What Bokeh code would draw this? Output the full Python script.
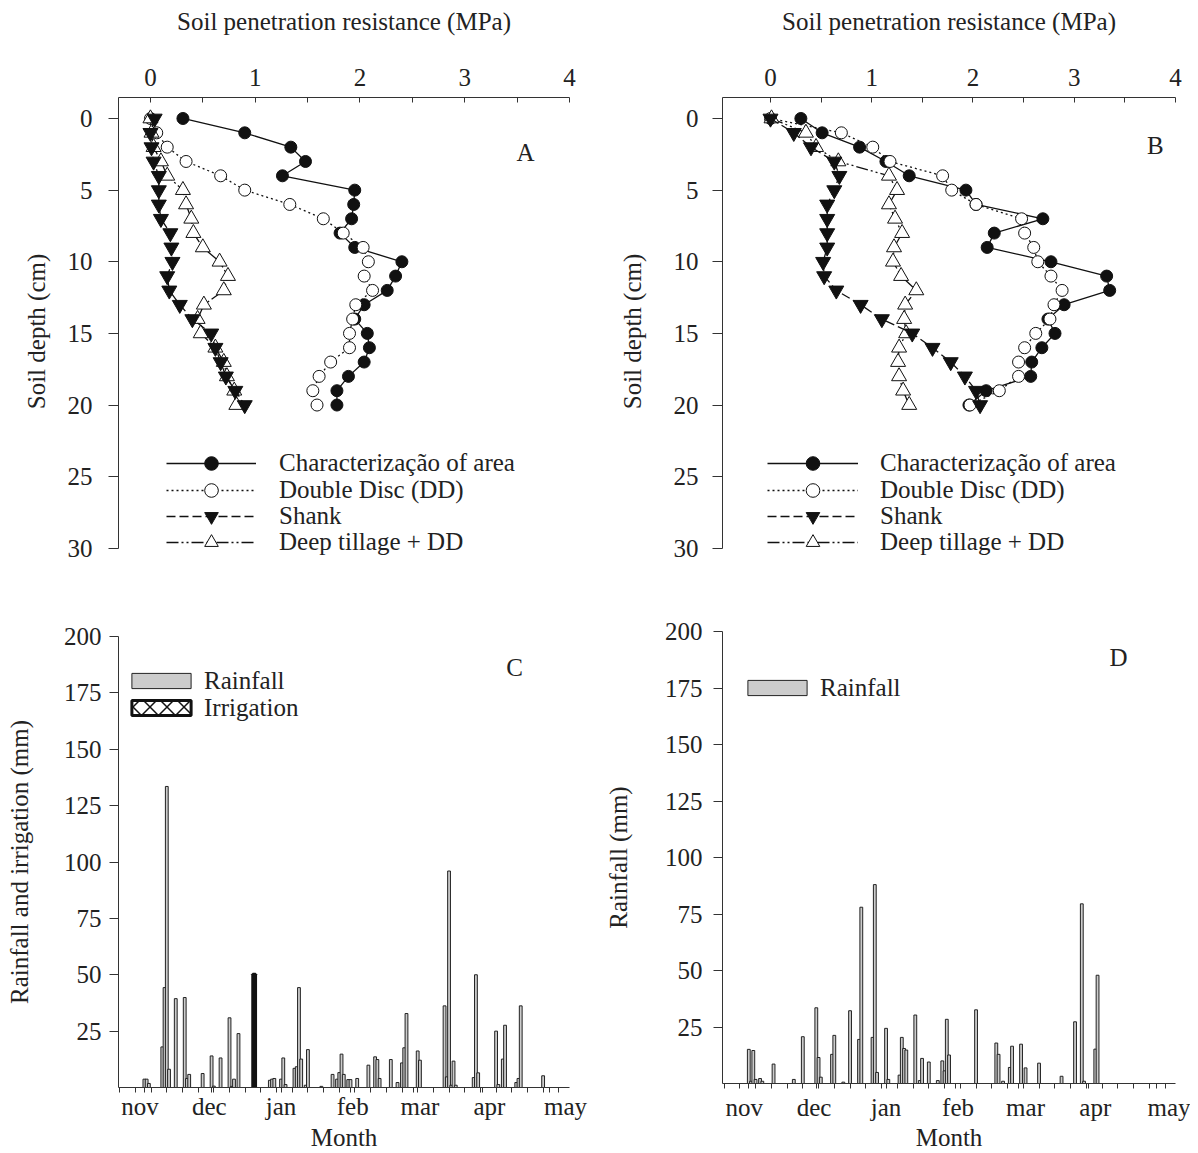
from bokeh.plotting import figure
from bokeh.models import Range1d, FixedTicker, Legend, LegendItem, Label
from bokeh.layouts import column, row
from bokeh.embed import file_html
from bokeh.resources import INLINE

FONT = "Liberation Serif"
TXT = "#222222"
AX = "#333333"
FS = "25px"

# ---------------- data: soil penetration resistance (MPa) by depth (cm) -------------
depth_cm = list(range(21))
a_characterizacao = [0.31, 0.90, 1.34, 1.48, 1.26, 1.95, 1.94, 1.92, 1.81, 1.95, 2.40,
                     2.34, 2.26, 2.04, 1.95, 2.07, 2.09, 2.04, 1.89, 1.78, 1.78]
a_double_disc = [0.0, 0.06, 0.16, 0.34, 0.67, 0.90, 1.33, 1.65, 1.84, 2.03, 2.08,
                 2.04, 2.12, 1.96, 1.93, 1.90, 1.90, 1.72, 1.61, 1.55, 1.59]
a_shank = [0.04, 0.0, 0.01, 0.03, 0.08, 0.08, 0.08, 0.10, 0.19, 0.20, 0.21,
           0.16, 0.18, 0.28, 0.40, 0.58, 0.62, 0.67, 0.72, 0.81, 0.90]
a_deep_tillage = [0.0, 0.01, 0.03, 0.10, 0.16, 0.31, 0.34, 0.39, 0.41, 0.50, 0.66,
                  0.74, 0.70, 0.51, 0.45, 0.48, 0.62, 0.70, 0.73, 0.80, 0.82]

b_characterizacao = [0.30, 0.51, 0.88, 1.14, 1.37, 1.93, 2.03, 2.69, 2.21, 2.14, 2.77,
                     3.32, 3.35, 2.90, 2.74, 2.81, 2.68, 2.58, 2.57, 2.13, 1.96]
b_double_disc = [0.0, 0.70, 1.01, 1.18, 1.70, 1.79, 2.03, 2.48, 2.51, 2.60, 2.64,
                 2.77, 2.88, 2.80, 2.76, 2.62, 2.51, 2.45, 2.45, 2.26, 1.97]
b_shank = [0.0, 0.23, 0.40, 0.63, 0.68, 0.63, 0.56, 0.56, 0.56, 0.56, 0.52,
           0.53, 0.65, 0.89, 1.10, 1.40, 1.60, 1.78, 1.92, 2.03, 2.07]
b_deep_tillage = [0.01, 0.35, 0.45, 0.67, 1.17, 1.25, 1.17, 1.23, 1.30, 1.22, 1.21,
                  1.29, 1.44, 1.33, 1.32, 1.34, 1.27, 1.26, 1.27, 1.31, 1.37]

series_names = ["Characterização of area", "Double Disc (DD)", "Shank", "Deep tillage + DD"]
mpa_ticks = [0, 1, 2, 3, 4]
mpa_minor = [0.5, 1.5, 2.5, 3.5]
depth_ticks = [0, 5, 10, 15, 20, 25, 30]

# ---------------- data: daily rainfall / irrigation (mm), day 0 = 1 November ----------
c_rain_day = [0, 1, 2, 8, 9, 10, 11, 14, 18, 19, 20, 26, 30, 31, 34, 38, 39, 40, 42,
              56, 57, 58, 61, 62, 63, 67, 68, 69, 70, 72, 73, 79, 84, 86, 87, 88, 89,
              91, 92, 95, 100, 103, 104, 105, 110, 113, 115, 116, 117, 122, 123,
              134, 135, 136, 137, 138, 139, 147, 148, 149, 157, 158, 160, 161,
              166, 167, 168, 178]
c_rain_mm = [3.7, 3.7, 1.8, 18.0, 44.3, 133.5, 8.1, 39.4, 39.9, 4.0, 5.8, 6.2, 14.0, 0.6, 13.1,
             30.9, 0.5, 3.7, 23.9,
             3.2, 3.7, 4.0, 3.7, 13.1, 1.3, 8.5, 9.2, 44.3, 12.6, 1.0, 16.8, 0.5, 5.8, 3.7, 6.6,
             14.8, 5.8,
             3.5, 3.5, 4.0, 9.9, 13.6, 12.4, 4.0, 12.4, 2.2, 10.9, 17.6, 32.8, 16.2, 12.1,
             36.2, 4.7, 96.0, 1.0, 11.7, 1.0, 4.4, 50.0, 6.5, 25.0, 1.3, 12.6, 27.6,
             2.2, 4.0, 36.2, 5.2]
c_irrigation_day = [49]
c_irrigation_mm = [50.2]

d_rain_day = [0, 1, 2, 3, 5, 6, 11, 20, 24, 30, 31, 32, 37, 38, 42, 45, 49, 50, 55, 56, 57,
              61, 62, 67, 68, 69, 70, 74, 76, 77, 80, 84, 86, 87, 88, 89,
              101, 110, 111, 113, 116, 117, 121, 123, 129, 139, 145, 148, 149, 154, 155]
d_rain_mm = [15.1, 1.0, 14.6, 1.8, 2.2, 1.0, 8.6, 1.8, 20.7, 33.5, 11.5, 2.8, 12.9, 21.3, 0.6,
             32.2, 19.5, 78.0, 20.4, 88.0, 4.9,
             24.4, 1.8, 3.7, 20.4, 15.5, 14.8, 30.3, 1.3, 11.1, 9.5, 1.3, 10.0, 5.6, 28.4, 12.6,
             32.6, 17.9, 12.9, 1.0, 7.1, 16.5, 17.4, 6.9, 9.0, 3.2, 27.3, 79.5, 1.0, 15.2, 47.9]

month_labels = ["nov", "dec", "jan", "feb", "mar", "apr", "may"]
month_label_day = [-2, 29, 61, 93, 123, 154, 188]
month_start_day = [0, 30, 61, 92, 120, 151, 181]
week_tick_day = [-11 + 7 * k for k in range(29)]
rain_ticks = [25, 50, 75, 100, 125, 150, 175, 200]


def text_axis(ax):
    ax.axis_line_color = AX
    ax.major_tick_line_color = AX
    ax.minor_tick_line_color = AX
    ax.major_label_text_font = FONT
    ax.major_label_text_font_size = FS
    ax.major_label_text_color = TXT
    ax.axis_label_text_font = FONT
    ax.axis_label_text_font_size = FS
    ax.axis_label_text_font_style = "normal"
    ax.axis_label_text_color = TXT


def one_legend(label, renderers, x, y, gw, gh, lh, standoff):
    return Legend(items=[LegendItem(label=label, renderers=renderers)], location=(x, y),
                  glyph_width=gw, glyph_height=gh, label_height=lh, label_standoff=standoff,
                  padding=0, margin=0, spacing=0, border_line_color=None,
                  background_fill_alpha=0, label_text_baseline="middle",
                  label_text_font=FONT, label_text_font_size=FS, label_text_color=TXT)


def depth_panel(width, bl, br, x0, data, letter, lx, ly, lab_so, ylab_so, leg_x, glyph_w, leg_so):
    p = figure(width=width, height=585, x_range=Range1d(x0, 4.0), y_range=Range1d(31.2, -1.465),
               x_axis_location="above", output_backend="svg", toolbar_location=None,
               min_border_left=bl, min_border_right=br, min_border_top=97, min_border_bottom=20)
    p.outline_line_color = None
    p.xgrid.visible = False
    p.ygrid.visible = False
    xa = p.xaxis[0]
    text_axis(xa)
    xa.ticker = FixedTicker(ticks=mpa_ticks, minor_ticks=mpa_minor)
    xa.major_tick_in = 5
    xa.major_tick_out = 0
    xa.minor_tick_in = 5
    xa.minor_tick_out = 0
    xa.major_label_standoff = 12
    xa.axis_label = "Soil penetration resistance (MPa)"
    xa.axis_label_standoff = 31
    ya = p.yaxis[0]
    text_axis(ya)
    ya.ticker = FixedTicker(ticks=depth_ticks)
    ya.bounds = (-1.465, 30)
    ya.major_tick_out = 10
    ya.major_tick_in = 0
    ya.minor_tick_out = 0
    ya.minor_tick_in = 0
    ya.major_label_standoff = lab_so
    ya.axis_label = "Soil depth (cm)"
    ya.axis_label_standoff = ylab_so

    styles = [
        dict(marker="circle", size=12, fill="#111111", dash="solid"),
        dict(marker="circle", size=12, fill="white", dash="2 3"),
        dict(marker="inverted_triangle", size=15, fill="#111111", dash="9 4"),
        dict(marker="triangle", size=15, fill="white", dash="12 3 2 3 2 3"),
    ]
    rend = {}
    for i in [0, 1, 3, 2]:
        st = styles[i]
        vals = data[i]
        rl = p.line(vals, depth_cm, line_color="#111111", line_width=1.3, line_dash=st["dash"])
        rs = p.scatter(vals, depth_cm, marker=st["marker"], size=st["size"],
                       fill_color=st["fill"], line_color="#111111", line_width=1)
        rend[i] = [rl, rs]
    leg_y = [85, 58, 32, 6]
    for i in range(4):
        p.add_layout(one_legend(series_names[i], rend[i], leg_x, leg_y[i], glyph_w, 34, 34, leg_so))
    p.add_layout(Label(x=lx, y=ly, text=letter, text_font=FONT, text_font_size=FS,
                       text_color=TXT, text_align="center", text_baseline="middle"))
    return p


def rain_panel(width, bl, br, bt, bb, x0, ylabel, lab_so, ylab_so, xlab_so, month_so,
               letter, lx, ly, bars, irrigation, leg_x, leg_y):
    p = figure(width=width, height=568, x_range=Range1d(x0, x0 + 201.33), y_range=Range1d(0, 200),
               output_backend="svg", toolbar_location=None,
               min_border_left=bl, min_border_right=br, min_border_top=bt, min_border_bottom=bb)
    p.outline_line_color = None
    p.xgrid.visible = False
    p.ygrid.visible = False
    ya = p.yaxis[0]
    text_axis(ya)
    ya.ticker = FixedTicker(ticks=rain_ticks)
    ya.major_tick_out = 9
    ya.major_tick_in = 0
    ya.minor_tick_out = 0
    ya.minor_tick_in = 0
    ya.major_label_standoff = lab_so
    ya.axis_label = ylabel
    ya.axis_label_standoff = ylab_so

    xa = p.xaxis[0]
    text_axis(xa)
    xa.ticker = FixedTicker(ticks=month_label_day, minor_ticks=month_start_day + week_tick_day)
    xa.major_label_overrides = {d: m for d, m in zip(month_label_day, month_labels)}
    xa.major_tick_out = 0
    xa.major_tick_in = 0
    xa.minor_tick_out = 5
    xa.minor_tick_in = 0
    xa.major_label_standoff = xlab_so
    xa.axis_label = "Month"
    xa.axis_label_standoff = month_so

    days, mm = bars
    r_rain = p.vbar(x=days, top=mm, bottom=0, width=1.25, fill_color="#cccccc",
                    line_color="#222222", line_width=1.0)
    p.add_layout(one_legend("Rainfall", [r_rain], leg_x, leg_y[0], 74, 19, 31, 6))
    if irrigation is not None:
        idays, imm = irrigation
        r_irr = p.vbar(x=idays, top=imm, bottom=0, width=1.25, fill_color="white",
                       hatch_pattern="x", hatch_color="#111111", hatch_scale=17, hatch_weight=1.5,
                       line_color="#111111", line_width=3)
        p.add_layout(one_legend("Irrigation", [r_irr], leg_x, leg_y[1], 74, 19, 31, 6))
    p.add_layout(Label(x=lx, y=ly, text=letter, text_font=FONT, text_font_size=FS,
                       text_color=TXT, text_align="center", text_baseline="middle"))
    return p


pa = depth_panel(600, 117, 31, -0.305,
                 [a_characterizacao, a_double_disc, a_shank, a_deep_tillage],
                 "A", 3.58, 2.35, 16, 15, 48, 90, 23)
pb = depth_panel(590, 122, 15, -0.474,
                 [b_characterizacao, b_double_disc, b_shank, b_deep_tillage],
                 "B", 3.80, 1.86, 14, 25, 45, 91, 22)
pc = rain_panel(600, 118, 29, 51, 66, -11.56, "Rainfall and irrigation (mm)", 8, 28, 0, 1,
                "C", 165.3, 186.3, (c_rain_day, c_rain_mm),
                (c_irrigation_day, c_irrigation_mm), 6, (391, 364))
pd_ = rain_panel(590, 122, 15, 46, 70, -11.69, "Rainfall (mm)", 11, 30, 5, 0,
                 "D", 164.3, 188.6, (d_rain_day, d_rain_mm), None, 18, (380, None))

layout = row(column(pa, pc), column(pb, pd_))
open("out.html", "w").write(file_html(layout, INLINE))
